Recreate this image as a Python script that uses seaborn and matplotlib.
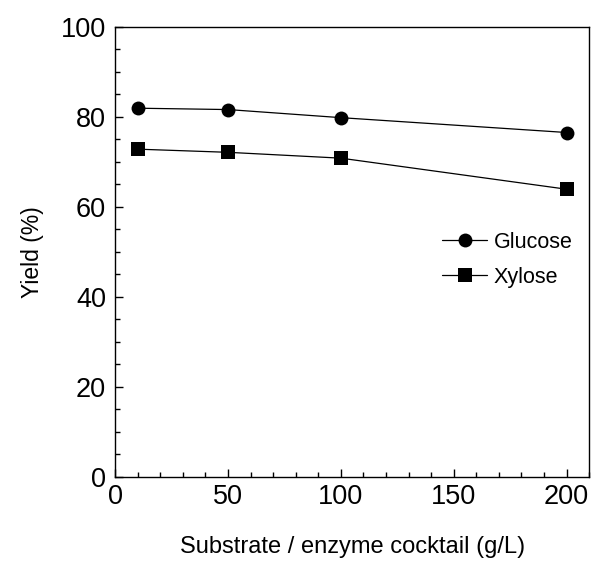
import pandas as pd
import matplotlib
matplotlib.use("Agg")
import matplotlib.pyplot as plt
from matplotlib.ticker import MultipleLocator
import seaborn as sns

# ---------------- Data ----------------
substrate = [10, 50, 100, 200]
glucose = [81.9, 81.6, 79.8, 76.5]
xylose = [72.8, 72.1, 70.8, 63.9]

df = pd.DataFrame({
    "x": substrate * 2,
    "y": glucose + xylose,
    "sugar": ["Glucose"] * len(substrate) + ["Xylose"] * len(substrate),
})

# ---------------- Style ----------------
sns.set_theme(style="ticks")
plt.rcParams["font.family"] = ["Liberation Sans", "DejaVu Sans"]
plt.rcParams.update({"text.color": "black", "axes.labelcolor": "black",
                     "xtick.color": "black", "ytick.color": "black"})

fig = plt.figure(figsize=(6, 5.69), dpi=100)
ax = fig.add_axes([0.192, 0.162, 0.790, 0.791])

sns.lineplot(data=df, x="x", y="y", hue="sugar", style="sugar",
             markers={"Glucose": "o", "Xylose": "s"}, dashes=False,
             palette={"Glucose": "black", "Xylose": "black"},
             markersize=10, linewidth=0.9, markeredgewidth=0, ax=ax)

ax.set_xlim(0, 210)
ax.set_ylim(0, 100)
ax.xaxis.set_major_locator(MultipleLocator(50))
ax.xaxis.set_minor_locator(MultipleLocator(10))
ax.yaxis.set_major_locator(MultipleLocator(20))
ax.yaxis.set_minor_locator(MultipleLocator(5))
ax.tick_params(which="both", direction="in", labelsize=19.5,
               color="black", labelcolor="black")
ax.tick_params(which="major", length=6, width=1)
ax.tick_params(axis="y", which="major", pad=6.5)
ax.tick_params(axis="x", which="major", pad=5)
ax.tick_params(which="minor", length=3.5, width=1)

for s in ax.spines.values():
    s.set_visible(True)
    s.set_linewidth(1)
    s.set_color("black")

ax.set_xlabel("Substrate / enzyme cocktail (g/L)", fontsize=17, labelpad=19)
ax.set_ylabel("Yield (%)", fontsize=16.5, labelpad=12.5)

leg = ax.legend(loc="upper left", bbox_to_anchor=(0.649, 0.588), frameon=False,
                fontsize=15.5, handlelength=2.1, handletextpad=0.3,
                labelspacing=0.65)

fig.savefig("out.png", dpi=100)
